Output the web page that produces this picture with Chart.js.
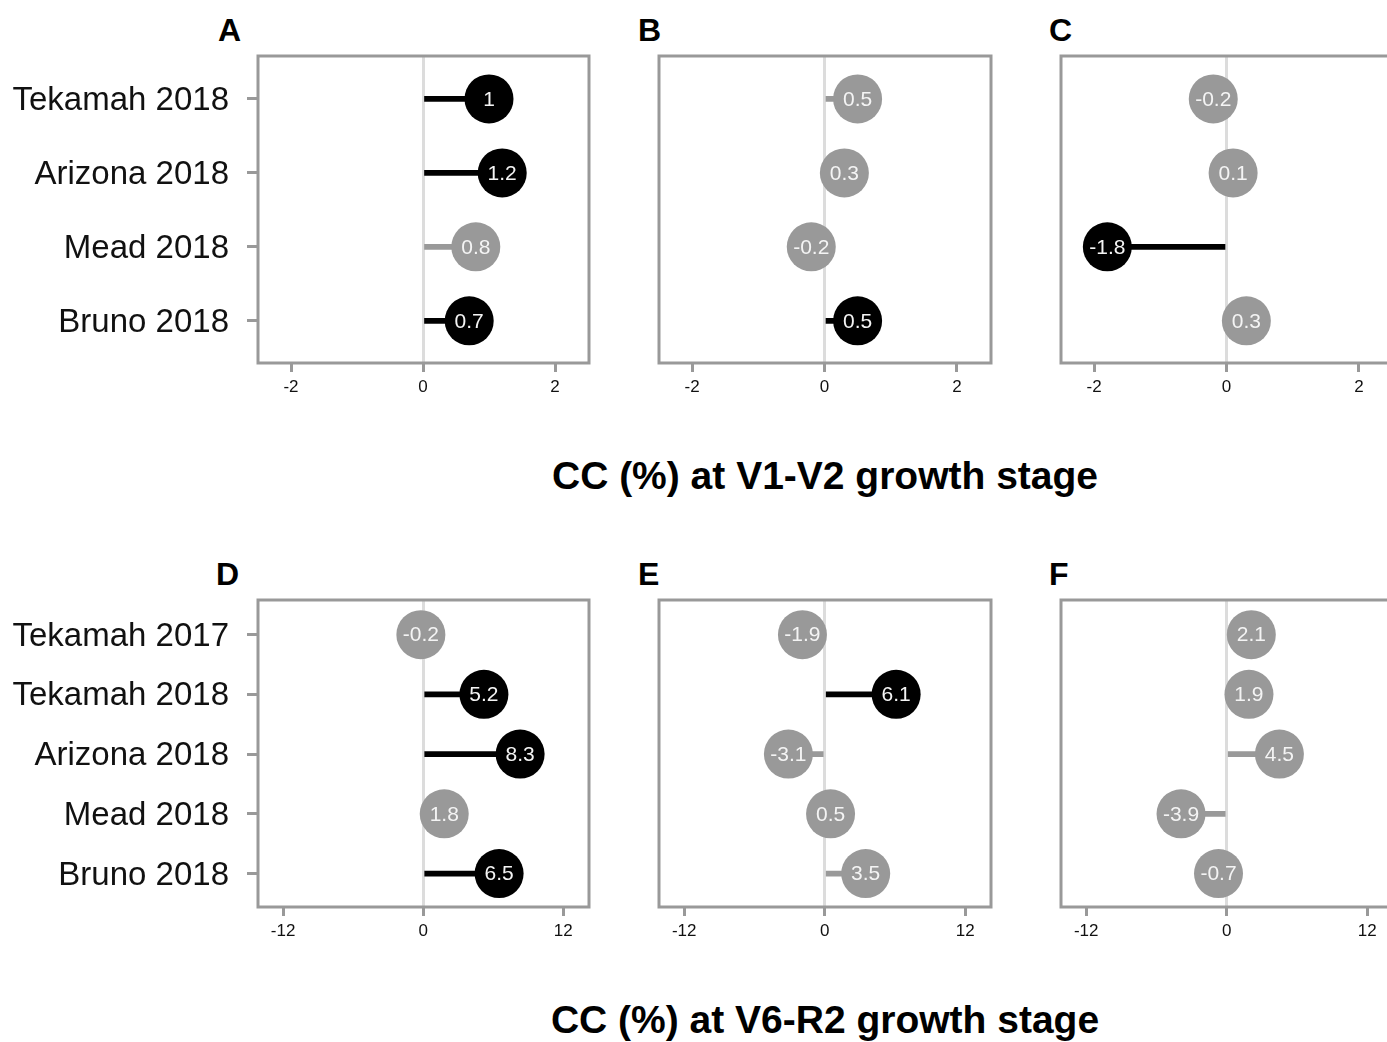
<!DOCTYPE html>
<html>
<head>
<meta charset="utf-8">
<script src="https://cdn.jsdelivr.net/npm/chart.js@4"></script>
<style>
  html, body { margin: 0; padding: 0; background: #fff; overflow: hidden; }
  body { width: 1387px; height: 1042px; position: relative; font-family: 'Liberation Sans', Arial, sans-serif; }
  canvas { position: absolute; }
  .letter { position: absolute; font-weight: bold; font-size: 32px; line-height: 32px; color: #000; }
  .axis-title { position: absolute; font-weight: bold; font-size: 39px; line-height: 39px; color: #000;
                transform: translateX(-50%); white-space: nowrap; }
</style>
</head>
<body>
<div class="letter" style="left:218px;top:14px">A</div>
<div class="letter" style="left:638px;top:14px">B</div>
<div class="letter" style="left:1049px;top:14px">C</div>
<div class="letter" style="left:216px;top:558px">D</div>
<div class="letter" style="left:638px;top:558px">E</div>
<div class="letter" style="left:1049px;top:558px">F</div>
<div class="axis-title" style="left:825px;top:456px">CC (%) at V1-V2 growth stage</div>
<div class="axis-title" style="left:825px;top:1000px">CC (%) at V6-R2 growth stage</div>

<canvas id="panelA"></canvas>
<canvas id="panelB"></canvas>
<canvas id="panelC"></canvas>
<canvas id="panelD"></canvas>
<canvas id="panelE"></canvas>
<canvas id="panelF"></canvas>

<script>
// sites, top to bottom
const sitesTop = ['Tekamah 2018', 'Arizona 2018', 'Mead 2018', 'Bruno 2018'];
const sitesBottom = ['Tekamah 2017', 'Tekamah 2018', 'Arizona 2018', 'Mead 2018', 'Bruno 2018'];

const ticksTop = [-2, 0, 2];
const ticksBottom = [-12, 0, 12];

// V1-V2 growth stage (1 = significant, drawn black)
const ccA = [1, 1.2, 0.8, 0.7];
const sigA = [1, 1, 0, 1];
const ccB = [0.5, 0.3, -0.2, 0.5];
const sigB = [0, 0, 0, 1];
const ccC = [-0.2, 0.1, -1.8, 0.3];
const sigC = [0, 0, 1, 0];

// V6-R2 growth stage
const ccD = [-0.2, 5.2, 8.3, 1.8, 6.5];
const sigD = [0, 1, 1, 0, 1];
const ccE = [-1.9, 6.1, -3.1, 0.5, 3.5];
const sigE = [0, 1, 0, 0, 0];
const ccF = [2.1, 1.9, 4.5, -3.9, -0.7];
const sigF = [0, 0, 0, 0, 0];

const GREY = '#999999';
const FONT = "'Liberation Sans', Arial, sans-serif";

const framePlugin = {
  id: 'frame',
  beforeDatasetsDraw(chart) {
    const a = chart.chartArea;
    const ctx = chart.ctx;
    ctx.save();
    ctx.strokeStyle = GREY;
    ctx.lineWidth = 3;
    ctx.strokeRect(a.left, a.top, a.right - a.left, a.bottom - a.top);
    ctx.restore();
  }
};

const bubbleText = {
  id: 'bubbleText',
  afterDatasetsDraw(chart) {
    const ctx = chart.ctx;
    const meta = chart.getDatasetMeta(0);
    const pts = chart.data.datasets[0].data;
    ctx.save();
    ctx.font = '21px ' + FONT;
    ctx.fillStyle = '#f4f4f4';
    ctx.textAlign = 'center';
    ctx.textBaseline = 'middle';
    meta.data.forEach(function (el, i) {
      ctx.fillText(String(pts[i].x), el.x, el.y + 1);
    });
    ctx.restore();
  }
};

function makePanel(id, box, sites, values, sig, ticks, xRange, yRange, withLabels) {
  const canvas = document.getElementById(id);
  const pad = 5;
  const yWidth = withLabels ? box.left : 0;
  const left = withLabels ? 0 : box.left - pad;
  const width = (box.right - box.left) + yWidth + pad + (withLabels ? 0 : pad);
  const height = pad + (box.bottom - box.top) + 40;
  canvas.width = width;
  canvas.height = height;
  canvas.style.left = left + 'px';
  canvas.style.top = (box.top - pad) + 'px';
  canvas.style.width = width + 'px';
  canvas.style.height = height + 'px';

  const colors = sig.map(s => s ? '#000000' : GREY);
  const points = values.map((v, i) => ({ x: v, y: i }));

  new Chart(canvas, {
    type: 'scatter',
    data: {
      datasets: [
        {
          type: 'scatter',
          data: points,
          backgroundColor: colors,
          borderWidth: 0,
          pointRadius: 24.5,
          pointHoverRadius: 24.5,
          order: 0
        },
        {
          type: 'bar',
          indexAxis: 'y',
          data: points.map(p => ({ x: p.x, y: p.y })),
          backgroundColor: colors,
          barThickness: 5,
          order: 1
        }
      ]
    },
    options: {
      responsive: false,
      animation: false,
      events: [],
      layout: { autoPadding: false, padding: { top: pad, right: pad, bottom: 0, left: withLabels ? 0 : pad } },
      plugins: { legend: { display: false }, tooltip: { enabled: false } },
      scales: {
        x: {
          type: 'linear',
          min: xRange[0],
          max: xRange[1],
          offset: false,
          afterBuildTicks: s => { s.ticks = ticks.map(v => ({ value: v })); },
          afterFit: s => { s.height = 40; s.paddingLeft = 0; s.paddingRight = 0; },
          border: { display: false },
          grid: {
            offset: false,
            color: c => (c.tick && c.tick.value === 0) ? '#dcdcdc' : 'rgba(0,0,0,0)',
            lineWidth: 3,
            drawTicks: true,
            tickLength: 9,
            tickColor: GREY,
            tickWidth: 3
          },
          ticks: { color: '#111', font: { family: FONT, size: 17 }, padding: 5, maxRotation: 0 }
        },
        y: {
          type: 'linear',
          reverse: true,
          min: yRange[0],
          max: yRange[1],
          offset: false,
          display: withLabels,
          afterBuildTicks: s => { s.ticks = sites.map((_, i) => ({ value: i })); },
          afterFit: s => { s.width = yWidth; s.paddingTop = 0; s.paddingBottom = 0; },
          border: { display: false },
          grid: {
            offset: false,
            drawOnChartArea: false,
            drawTicks: true,
            tickLength: 11,
            tickColor: GREY,
            tickWidth: 3
          },
          ticks: {
            autoSkip: false,
            color: '#111',
            font: { family: FONT, size: 33 },
            padding: 18,
            labelOffset: 2,
            callback: v => sites[v]
          }
        }
      }
    },
    plugins: [framePlugin, bubbleText]
  });
}

const yTop = [-0.58, 3.57];
const yBottom = [-0.58, 4.56];
const xTop = [-2.5, 2.515];
const xBottom = [-14.15, 14.2];

makePanel('panelA', { left: 258, right: 589, top: 56, bottom: 363 }, sitesTop, ccA, sigA, ticksTop, xTop, yTop, true);
makePanel('panelB', { left: 659, right: 991, top: 56, bottom: 363 }, sitesTop, ccB, sigB, ticksTop, xTop, yTop, false);
makePanel('panelC', { left: 1061, right: 1393, top: 56, bottom: 363 }, sitesTop, ccC, sigC, ticksTop, xTop, yTop, false);
makePanel('panelD', { left: 258, right: 589, top: 600, bottom: 907 }, sitesBottom, ccD, sigD, ticksBottom, xBottom, yBottom, true);
makePanel('panelE', { left: 659, right: 991, top: 600, bottom: 907 }, sitesBottom, ccE, sigE, ticksBottom, xBottom, yBottom, false);
makePanel('panelF', { left: 1061, right: 1393, top: 600, bottom: 907 }, sitesBottom, ccF, sigF, ticksBottom, xBottom, yBottom, false);
</script>
</body>
</html>
